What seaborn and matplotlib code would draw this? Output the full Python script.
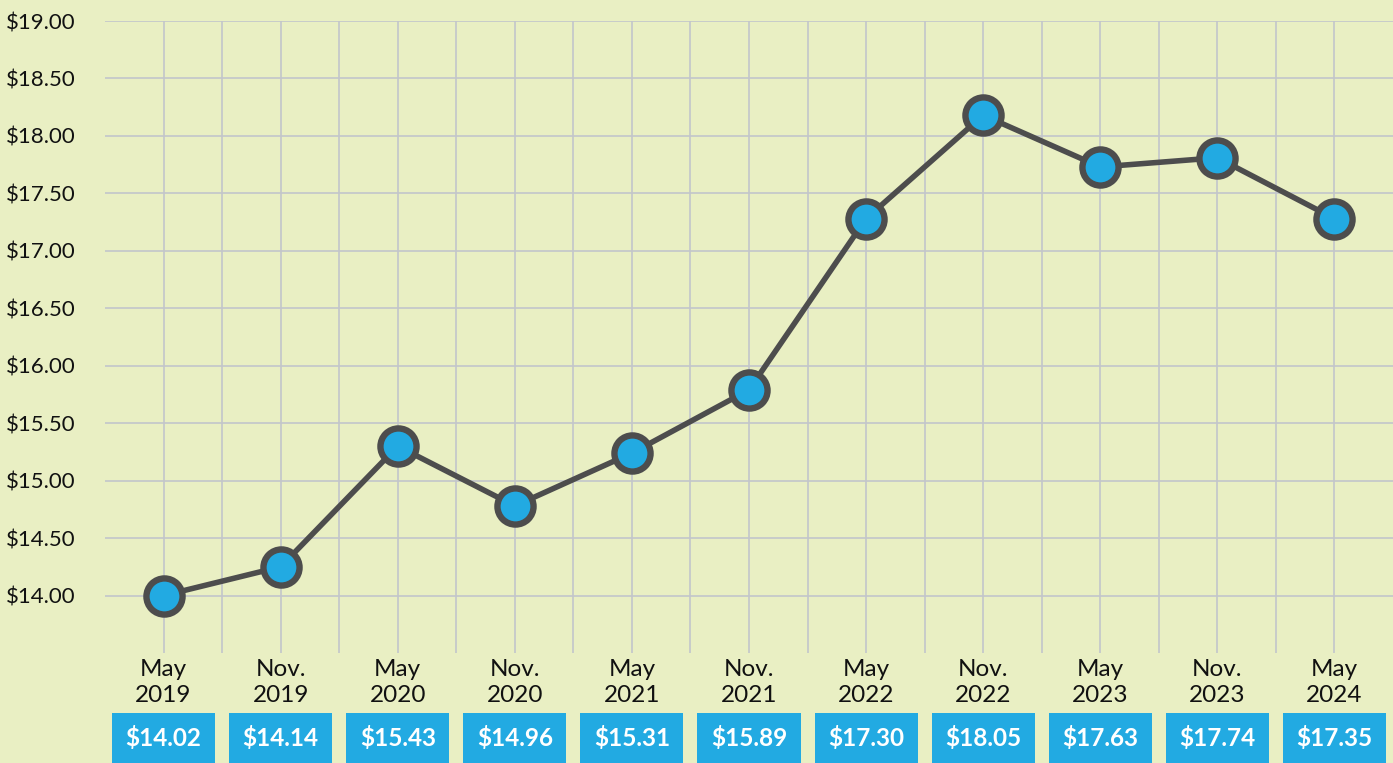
import numpy as np
import matplotlib.pyplot as plt
import matplotlib.transforms as mtransforms
from matplotlib.patches import Rectangle
import seaborn as sns

# =========================
# DATA
# =========================
months = ["May", "Nov.", "May", "Nov.", "May", "Nov.", "May", "Nov.", "May", "Nov.", "May"]
years = ["2019", "2019", "2020", "2020", "2021", "2021", "2022", "2022", "2023", "2023", "2024"]
plotted_values = [14.00, 14.25, 15.30, 14.78, 15.24, 15.79, 17.28, 18.18, 17.73, 17.81, 17.28]
box_labels = ["$14.02", "$14.14", "$15.43", "$14.96", "$15.31", "$15.89",
              "$17.30", "$18.05", "$17.63", "$17.74", "$17.35"]
y_ticks = [14.0, 14.5, 15.0, 15.5, 16.0, 16.5, 17.0, 17.5, 18.0, 18.5, 19.0]

BG = "#E9EFC3"
GRID = "#C2C5CB"
BLUE = "#22AAE2"
DARK = "#4D4D4D"

# =========================
# STYLE
# =========================
sns.set_theme(style="white")
plt.rcParams["font.family"] = ["Lato", "DejaVu Sans"]

fig = plt.figure(figsize=(13.93, 7.63), dpi=100, facecolor=BG)
ax = fig.add_axes([105 / 1393, 1 - 653 / 763, 1 - 105 / 1393, (653 - 21) / 763])
ax.set_facecolor(BG)

x = np.arange(len(plotted_values))

sns.lineplot(
    x=x,
    y=plotted_values,
    ax=ax,
    color=DARK,
    linewidth=4.0,
    marker="o",
    markersize=26,
    markerfacecolor=BLUE,
    markeredgecolor=DARK,
    markeredgewidth=4.6,
    zorder=3,
)

ax.set_xlim(-0.5, len(x) - 0.5)
ax.set_ylim(13.5, 19.0)

# grid
ax.set_yticks(y_ticks)
ax.set_yticklabels([f"${v:.2f}" for v in y_ticks], fontsize=16, color="#111111")
ax.set_xticks(x)
ax.set_xticks(np.arange(0.5, len(x) - 1, 1.0), minor=True)
ax.set_xticklabels([f"{m}\n{y}" for m, y in zip(months, years)],
                   fontsize=17.5, color="#111111", linespacing=1.3)
ax.grid(True, axis="y", color=GRID, linewidth=1.2)
ax.grid(True, axis="x", which="both", color=GRID, linewidth=1.2)
ax.tick_params(axis="both", which="both", length=0)
ax.tick_params(axis="y", pad=21)
ax.tick_params(axis="x", pad=4)
for s in ax.spines.values():
    s.set_visible(False)
ax.set_axisbelow(True)

# boxes with values under the labels
trans = mtransforms.blended_transform_factory(ax.transData, ax.transAxes)
box_w = 103 / 117
box_bottom = (653 - 763) / 632
box_top = (653 - 713) / 632
for xi, lbl in zip(x, box_labels):
    ax.add_patch(Rectangle((xi - box_w / 2, box_bottom), box_w, box_top - box_bottom,
                           transform=trans, facecolor=BLUE, edgecolor="none",
                           clip_on=False))
    ax.text(xi, (box_top + box_bottom) / 2, lbl, transform=trans, ha="center",
            va="center", color="white", fontsize=17.5, fontweight="bold")

plt.savefig("out.png", dpi=100, facecolor=BG)
